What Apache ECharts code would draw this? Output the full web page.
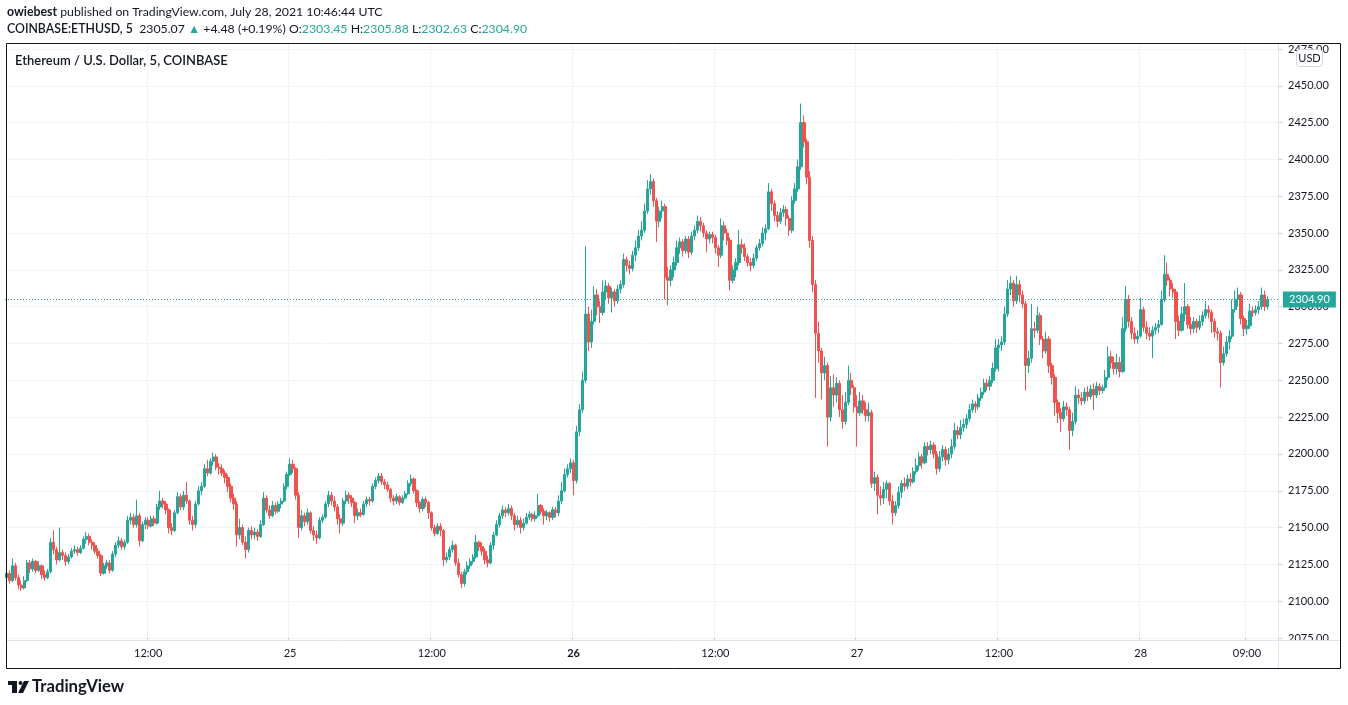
<!DOCTYPE html>
<html><head><meta charset="utf-8">
<script src="https://cdn.jsdelivr.net/npm/echarts@6/dist/echarts.min.js"></script>
<style>html,body{margin:0;padding:0;background:#fff}#c{width:1348px;height:705px}</style>
</head><body><div id="c"></div>
<script>
// 15-minute OHLC candles [open, close, low, high]
const jul24 = [
[2116,2119,2110,2122],[2119,2114,2112,2121],[2114,2124,2113,2129],[2124,2116,2114,2126],
[2116,2111,2108,2118],[2111,2109,2107,2114],[2109,2114,2108,2117],[2114,2126,2113,2128],
[2126,2122,2119,2128],[2122,2127,2120,2129],[2127,2121,2119,2128],[2121,2124,2120,2127],
[2124,2118,2115,2125],[2118,2116,2114,2121],[2116,2120,2115,2122],[2120,2140,2119,2143],
[2140,2135,2132,2148],[2135,2128,2125,2137],[2128,2133,2127,2150],[2133,2131,2128,2135],
[2131,2127,2124,2133],[2127,2130,2125,2132],[2130,2134,2129,2136],[2134,2135,2132,2138],
[2135,2133,2131,2137],[2133,2136,2132,2138],[2136,2142,2135,2144],[2142,2144,2139,2147],
[2144,2140,2138,2146],[2140,2138,2135,2142],[2138,2134,2132,2140],[2134,2131,2129,2136],
[2131,2119,2117,2132],[2119,2124,2118,2126],[2124,2126,2122,2128],[2126,2121,2119,2128],
[2121,2132,2120,2134],[2132,2138,2130,2140],[2138,2141,2136,2144],[2141,2137,2135,2143],
[2137,2140,2135,2142],[2140,2155,2139,2158],[2155,2157,2152,2160],[2157,2152,2150,2159],
[2152,2158,2150,2169],[2158,2141,2137,2160],[2141,2152,2140,2154],[2152,2155,2149,2157],
[2155,2151,2149,2157],[2151,2156,2150,2158],[2156,2153,2151,2158],[2153,2164,2152,2166],
[2164,2168,2162,2175],[2168,2166,2163,2170],[2166,2162,2159,2168],[2162,2150,2146,2163],
[2150,2148,2145,2153],[2148,2160,2147,2162],[2160,2171,2159,2174],[2171,2164,2162,2173],
[2164,2172,2162,2175],[2172,2168,2166,2181],[2168,2155,2152,2169],[2155,2152,2148,2158],
[2152,2166,2150,2168],[2166,2175,2165,2178],[2175,2178,2172,2181],[2178,2190,2177,2193],
[2190,2187,2185,2196],[2187,2195,2186,2197],[2195,2198,2192,2201],[2198,2191,2189,2200],
[2191,2190,2186,2194],[2190,2187,2185,2193],[2187,2184,2180,2189],[2184,2178,2174,2186],
[2178,2170,2167,2180],[2170,2166,2162,2173],[2166,2145,2137,2168],[2145,2150,2142,2156],
[2150,2140,2138,2152],[2140,2135,2129,2144],[2135,2148,2133,2150],[2148,2145,2142,2151],
[2145,2147,2142,2150],[2147,2144,2141,2149],[2144,2152,2143,2155],[2152,2170,2151,2174],
[2170,2162,2160,2172],[2162,2158,2156,2165],[2158,2165,2157,2168],[2165,2161,2159,2167],
[2161,2166,2160,2168],[2166,2168,2163,2170],[2168,2178,2167,2180],[2178,2186,2176,2188]
];
const jul25 = [
[2186,2193,2185,2197],[2193,2190,2187,2196],[2190,2172,2169,2191],[2172,2150,2143,2174],
[2150,2158,2148,2162],[2158,2154,2151,2160],[2154,2160,2152,2163],[2160,2148,2146,2161],
[2148,2145,2141,2151],[2145,2143,2139,2148],[2143,2155,2142,2157],[2155,2157,2153,2159],
[2157,2166,2156,2168],[2166,2172,2164,2175],[2172,2168,2165,2174],[2168,2164,2161,2171],
[2164,2156,2152,2166],[2156,2153,2146,2159],[2153,2168,2151,2170],[2168,2172,2166,2175],
[2172,2170,2166,2174],[2170,2167,2164,2172],[2167,2158,2153,2168],[2158,2160,2155,2163],
[2160,2159,2157,2163],[2159,2166,2158,2168],[2166,2169,2164,2171],[2169,2168,2165,2171],
[2168,2178,2167,2180],[2178,2182,2176,2184],[2182,2185,2180,2187],[2185,2181,2179,2187],
[2181,2179,2176,2183],[2179,2176,2174,2181],[2176,2170,2167,2177],[2170,2168,2165,2172],
[2168,2171,2166,2173],[2171,2167,2165,2172],[2167,2170,2166,2172],[2170,2173,2169,2175],
[2173,2180,2172,2182],[2180,2183,2178,2186],[2183,2175,2173,2184],[2175,2167,2164,2176],
[2167,2163,2160,2168],[2163,2169,2161,2171],[2169,2167,2164,2171],[2167,2160,2156,2168],
[2160,2150,2148,2161],[2150,2146,2144,2152],[2146,2151,2145,2153],[2151,2148,2144,2153],
[2148,2128,2124,2149],[2128,2130,2126,2133],[2130,2135,2128,2137],[2135,2138,2133,2141],
[2138,2126,2124,2139],[2126,2118,2116,2129],[2118,2112,2109,2120],[2112,2120,2110,2122],
[2120,2124,2118,2127],[2124,2127,2122,2129],[2127,2130,2125,2132],[2130,2140,2129,2145],
[2140,2137,2134,2141],[2137,2134,2131,2140],[2134,2128,2125,2136],[2128,2126,2123,2131],
[2126,2138,2125,2140],[2138,2145,2135,2147],[2145,2152,2144,2155],[2152,2158,2150,2160],
[2158,2162,2156,2165],[2162,2160,2157,2164],[2160,2163,2158,2166],[2163,2158,2155,2165],
[2158,2152,2148,2160],[2152,2155,2150,2158],[2155,2150,2146,2157],[2150,2153,2148,2156],
[2153,2157,2152,2160],[2157,2159,2155,2161],[2159,2156,2154,2160],[2156,2158,2154,2161],
[2158,2165,2157,2173],[2165,2161,2159,2166],[2161,2158,2152,2163],[2158,2160,2155,2162],
[2160,2157,2154,2161],[2157,2162,2155,2164],[2162,2160,2157,2164],[2160,2168,2158,2172],
[2168,2175,2166,2181],[2175,2186,2174,2190],[2186,2190,2184,2193],[2190,2194,2187,2197]
];
const jul26 = [
[2194,2182,2172,2196],[2182,2215,2180,2219],[2215,2230,2212,2234],[2230,2250,2228,2256],
[2250,2295,2248,2341],[2295,2276,2270,2300],[2276,2290,2272,2298],[2290,2308,2288,2314],
[2308,2300,2294,2312],[2300,2296,2289,2304],[2296,2310,2294,2318],[2310,2314,2305,2318],
[2314,2306,2302,2316],[2306,2310,2296,2313],[2310,2304,2300,2312],[2304,2312,2302,2315],
[2312,2315,2309,2318],[2315,2332,2313,2336],[2332,2328,2324,2334],[2328,2326,2322,2331],
[2326,2335,2324,2338],[2335,2340,2331,2345],[2340,2348,2338,2352],[2348,2352,2345,2358],
[2352,2365,2350,2370],[2365,2380,2363,2386],[2380,2385,2376,2390],[2385,2372,2368,2387],
[2372,2358,2344,2374],[2358,2365,2354,2368],[2365,2368,2360,2372],[2368,2320,2305,2370],
[2320,2318,2301,2327],[2318,2325,2314,2328],[2325,2330,2320,2334],[2330,2340,2328,2345],
[2340,2344,2336,2347],[2344,2338,2334,2346],[2338,2346,2336,2348],[2346,2337,2333,2348],
[2337,2348,2335,2351],[2348,2352,2345,2355],[2352,2358,2350,2362],[2358,2355,2351,2361],
[2355,2350,2347,2357],[2350,2346,2337,2352],[2346,2349,2343,2351],[2349,2347,2343,2351],
[2347,2340,2336,2349],[2340,2335,2327,2342],[2335,2355,2333,2360],[2355,2350,2345,2358],
[2350,2345,2342,2353],[2345,2318,2311,2347],[2318,2325,2316,2328],[2325,2330,2320,2333],
[2330,2342,2328,2352],[2342,2340,2336,2346],[2340,2334,2331,2343],[2334,2330,2327,2336],
[2330,2328,2324,2333],[2328,2333,2326,2336],[2333,2340,2331,2342],[2340,2343,2338,2346],
[2343,2350,2341,2354],[2350,2353,2345,2356],[2353,2378,2352,2384],[2378,2370,2365,2380],
[2370,2362,2358,2372],[2362,2358,2354,2365],[2358,2364,2356,2367],[2364,2366,2361,2369],
[2366,2360,2355,2368],[2360,2352,2348,2362],[2352,2372,2350,2375],[2372,2380,2370,2384],
[2380,2395,2378,2400],[2395,2425,2393,2438],[2425,2412,2408,2430],[2412,2388,2383,2414],
[2388,2345,2340,2392],[2345,2315,2310,2348],[2315,2282,2238,2318],[2282,2270,2262,2290],
[2270,2255,2237,2272],[2255,2260,2250,2266],[2260,2225,2205,2262],[2225,2245,2222,2253],
[2245,2240,2232,2254],[2240,2248,2235,2252],[2248,2230,2225,2250],[2230,2222,2217,2240],
[2222,2235,2220,2242],[2235,2250,2233,2260],[2250,2245,2240,2255],[2245,2232,2228,2247]
];
const jul27 = [
[2232,2228,2205,2240],[2228,2236,2226,2242],[2236,2230,2227,2240],[2230,2226,2222,2235],
[2226,2228,2222,2235],[2228,2180,2177,2230],[2180,2184,2175,2188],[2184,2172,2159,2186],
[2172,2170,2165,2178],[2170,2176,2166,2181],[2176,2180,2170,2182],[2180,2168,2165,2181],
[2168,2160,2152,2172],[2160,2165,2158,2168],[2165,2174,2163,2178],[2174,2180,2170,2182],
[2180,2178,2175,2184],[2178,2183,2176,2186],[2183,2181,2178,2187],[2181,2188,2180,2191],
[2188,2192,2186,2197],[2192,2198,2189,2201],[2198,2194,2190,2200],[2194,2205,2193,2208],
[2205,2203,2199,2208],[2203,2206,2200,2209],[2206,2200,2197,2208],[2200,2190,2186,2202],
[2190,2198,2188,2202],[2198,2203,2195,2206],[2203,2196,2192,2205],[2196,2200,2193,2204],
[2200,2205,2197,2210],[2205,2216,2203,2221],[2216,2213,2210,2219],[2213,2218,2210,2223],
[2218,2220,2215,2224],[2220,2224,2217,2227],[2224,2230,2222,2234],[2230,2234,2228,2237],
[2234,2232,2228,2236],[2232,2238,2230,2241],[2238,2242,2236,2245],[2242,2248,2240,2251],
[2248,2246,2243,2251],[2246,2250,2243,2253],[2250,2258,2248,2262],[2258,2272,2256,2278],
[2272,2274,2256,2278],[2274,2276,2270,2280],[2276,2295,2274,2300],[2295,2312,2293,2318],
[2312,2316,2308,2321],[2316,2304,2300,2318],[2304,2315,2302,2321],[2315,2308,2303,2318],
[2308,2302,2299,2311],[2302,2260,2243,2304],[2260,2265,2255,2270],[2265,2285,2262,2302],
[2285,2284,2279,2290],[2284,2294,2282,2300],[2294,2278,2274,2296],[2278,2270,2265,2280],
[2270,2278,2268,2283],[2278,2260,2255,2280],[2260,2252,2247,2262],[2252,2235,2226,2254],
[2235,2228,2221,2237],[2228,2224,2215,2231],[2224,2232,2222,2236],[2232,2230,2226,2235],
[2230,2216,2203,2232],[2216,2222,2212,2228],[2222,2240,2220,2246],[2240,2238,2234,2244],
[2238,2236,2233,2242],[2236,2242,2234,2245],[2242,2239,2236,2246],[2239,2244,2237,2247],
[2244,2240,2230,2248],[2240,2246,2238,2249],[2246,2243,2240,2248],[2243,2245,2241,2247],
[2245,2252,2243,2257],[2252,2266,2250,2273],[2266,2262,2258,2270],[2262,2258,2254,2266],
[2258,2262,2254,2268],[2262,2256,2252,2266],[2256,2285,2255,2293],[2285,2305,2283,2314],
[2305,2290,2286,2308],[2290,2282,2278,2293],[2282,2278,2275,2286],[2278,2280,2275,2284]
];
const jul28 = [
[2280,2298,2279,2306],[2298,2286,2283,2300],[2286,2282,2278,2290],[2282,2280,2277,2286],
[2280,2284,2265,2287],[2284,2286,2281,2289],[2286,2288,2282,2291],[2288,2305,2287,2311],
[2305,2322,2303,2335],[2322,2318,2314,2330],[2318,2312,2307,2320],[2312,2310,2306,2316],
[2310,2290,2278,2312],[2290,2284,2280,2294],[2284,2295,2283,2300],[2295,2300,2290,2316],
[2300,2288,2285,2302],[2288,2285,2281,2293],[2285,2290,2282,2293],[2290,2286,2282,2292],
[2286,2290,2284,2294],[2290,2294,2287,2297],[2294,2298,2292,2304],[2298,2296,2292,2301],
[2296,2290,2282,2298],[2290,2283,2279,2292],[2283,2282,2277,2286],[2282,2262,2245,2284],
[2262,2268,2260,2273],[2268,2276,2266,2280],[2276,2280,2271,2284],[2280,2298,2278,2305],
[2298,2305,2296,2311],[2305,2308,2300,2313],[2308,2292,2288,2310],[2292,2285,2280,2294],
[2285,2287,2281,2291],[2287,2297,2285,2302],[2297,2296,2293,2300],[2296,2298,2294,2301],
[2298,2300,2295,2304],[2300,2308,2298,2313],[2308,2300,2297,2311],[2300,2304.9,2298,2307]
];

const tickTimes  = ['2021-07-24 12:00','2021-07-25 00:00','2021-07-25 12:00','2021-07-26 00:00','2021-07-26 12:00','2021-07-27 00:00','2021-07-27 12:00','2021-07-28 00:00','2021-07-28 09:00'];
const tickLabels = ['12:00','25','12:00','26','12:00','27','12:00','28','09:00'];
const boldLabels = ['26'];

const headerLine1 = '{b|owiebest}{n| published on TradingView.com, July 28, 2021 10:46:44 UTC}';
const headerLine2 = '{b|COINBASE:ETHUSD, 5}{n|  2305.07 }{g|▲}{n| +4.48 (+0.19%) O:}{g|2303.45}{n| H:}{g|2305.88}{n| L:}{g|2302.63}{n| C:}{g|2304.90}';
const chartTitle = 'Ethereum / U.S. Dollar, 5, COINBASE';

const UP = '#26a69a', DOWN = '#ef5350', TXT = '#131722', GRID = '#f0f3fa';
const FONT = 'Lato, "Open Sans", sans-serif';
const HFS = 12.3;

const candles = jul24.concat(jul25, jul26, jul27, jul28);
const startTime = Date.UTC(2021, 6, 24, 0, 0);
const slotMs = 15 * 60000;
const padSlots = 3;
function fmt(t) {
  const d = new Date(t), p = n => String(n).padStart(2, '0');
  return d.getUTCFullYear() + '-' + p(d.getUTCMonth() + 1) + '-' + p(d.getUTCDate()) + ' ' + p(d.getUTCHours()) + ':' + p(d.getUTCMinutes());
}
const categories = [];
for (let i = 0; i < candles.length + padSlots; i++) categories.push(fmt(startTime + i * slotMs));
const isTick = (idx, val) => tickTimes.indexOf(val !== undefined ? val : categories[idx]) >= 0;
const lastClose = candles[candles.length - 1][1];

const chart = echarts.init(document.getElementById('c'), null, {renderer: 'canvas'});
chart.setOption({
  animation: false,
  backgroundColor: '#fff',
  grid: {left: 5, right: 70, top: 43, bottom: 67},
  xAxis: {
    type: 'category', data: categories, boundaryGap: true,
    axisLine: {show: false},
    axisTick: {show: true, interval: isTick, length: 3, lineStyle: {color: '#c9ccd4'}},
    axisLabel: {
      interval: isTick, margin: 10, color: TXT, fontSize: 11, fontFamily: FONT,
      formatter: v => { const k = tickTimes.indexOf(v); if (k < 0) return ''; const l = tickLabels[k]; return boldLabels.indexOf(l) >= 0 ? '{b|' + l + '}' : l; },
      rich: {b: {fontWeight: 'bold', fontSize: 11, fontFamily: FONT, color: TXT}}
    },
    splitLine: {show: true, interval: isTick, lineStyle: {color: GRID, width: 1}}
  },
  yAxis: {
    type: 'value', position: 'right', min: 2075, max: 2479.1, interval: 25,
    axisLine: {show: false},
    axisTick: {show: true, length: 4, lineStyle: {color: '#c9ccd4'}},
    axisLabel: {
      margin: 10, color: TXT, fontSize: 11, fontFamily: FONT, showMaxLabel: false,
      formatter: v => Math.abs(v / 25 - Math.round(v / 25)) < 1e-6 ? v.toFixed(2) : ''
    },
    splitLine: {show: true, lineStyle: {color: GRID, width: 1}}
  },
  series: [{
    type: 'candlestick', data: candles, barWidth: '92%',
    itemStyle: {color: UP, color0: DOWN, borderColor: UP, borderColor0: DOWN, borderColorDoji: UP, borderWidth: 1},
    emphasis: {disabled: true},
    markLine: {
      silent: true, symbol: 'none', animation: false,
      itemStyle: {color: UP},
      lineStyle: {type: [1, 2], color: UP, width: 1.2, opacity: 1},
      label: {
        show: true, position: 'end', distance: 5, formatter: p => p.value.toFixed(2),
        backgroundColor: UP, color: '#fff', fontSize: 11, fontFamily: FONT, padding: [3, 6, 2, 6]
      },
      data: [{yAxis: lastClose, lineStyle: {color: UP, type: [1, 2], width: 1.2}}]
    }
  }],
  graphic: [
    {type: 'rect', z: 100, shape: {x: 1279, y: 641, width: 61, height: 27}, style: {fill: '#fff'}},
    {type: 'line', z: 100, shape: {x1: 1278.5, y1: 43, x2: 1278.5, y2: 668}, style: {stroke: '#e0e3eb', lineWidth: 1}},
    {type: 'line', z: 100, shape: {x1: 6, y1: 640.5, x2: 1341, y2: 640.5}, style: {stroke: '#e0e3eb', lineWidth: 1}},
    {type: 'rect', z: 101, shape: {x: 6.5, y: 43.5, width: 1334, height: 625}, style: {fill: 'none', stroke: '#131722', lineWidth: 1}},
    {type: 'rect', z: 102, shape: {x: 1296.5, y: 49.5, width: 26, height: 17, r: 3}, style: {fill: '#fff', stroke: '#d1d4dc', lineWidth: 1}},
    {type: 'text', z: 103, x: 1309.5, y: 58.5, style: {text: 'USD', fill: TXT, font: '11px ' + FONT, align: 'center', verticalAlign: 'middle'}},
    {type: 'text', z: 103, x: 15, y: 61, style: {text: chartTitle, fill: TXT, font: '600 13px ' + FONT, align: 'left', verticalAlign: 'middle'}},
    {type: 'text', z: 103, x: 7, y: 12, style: {text: headerLine1, align: 'left', verticalAlign: 'middle',
      rich: {b: {fontWeight: 'bold', fontSize: HFS, fontFamily: FONT, fill: TXT}, n: {fontSize: HFS, fontFamily: FONT, fill: TXT}}}},
    {type: 'text', z: 103, x: 7, y: 29, style: {text: headerLine2, align: 'left', verticalAlign: 'middle',
      rich: {b: {fontWeight: 600, fontSize: HFS, fontFamily: FONT, fill: TXT}, n: {fontSize: HFS, fontFamily: FONT, fill: TXT}, g: {fontSize: HFS, fontFamily: FONT, fill: UP}}}},
    // TradingView logo mark
    {type: 'rect', z: 103, shape: {x: 8, y: 681, width: 9, height: 4}, style: {fill: TXT}},
    {type: 'rect', z: 103, shape: {x: 12, y: 681, width: 5, height: 12}, style: {fill: TXT}},
    {type: 'circle', z: 103, shape: {cx: 20.5, cy: 683, r: 2}, style: {fill: TXT}},
    {type: 'polygon', z: 103, shape: {points: [[24, 681], [29, 681], [23, 693], [18, 693]]}, style: {fill: TXT}},
    {type: 'text', z: 103, x: 32, y: 687, style: {text: 'TradingView', fill: TXT, font: 'bold 16.7px ' + FONT, align: 'left', verticalAlign: 'middle'}}
  ]
});
</script>
</body></html>
